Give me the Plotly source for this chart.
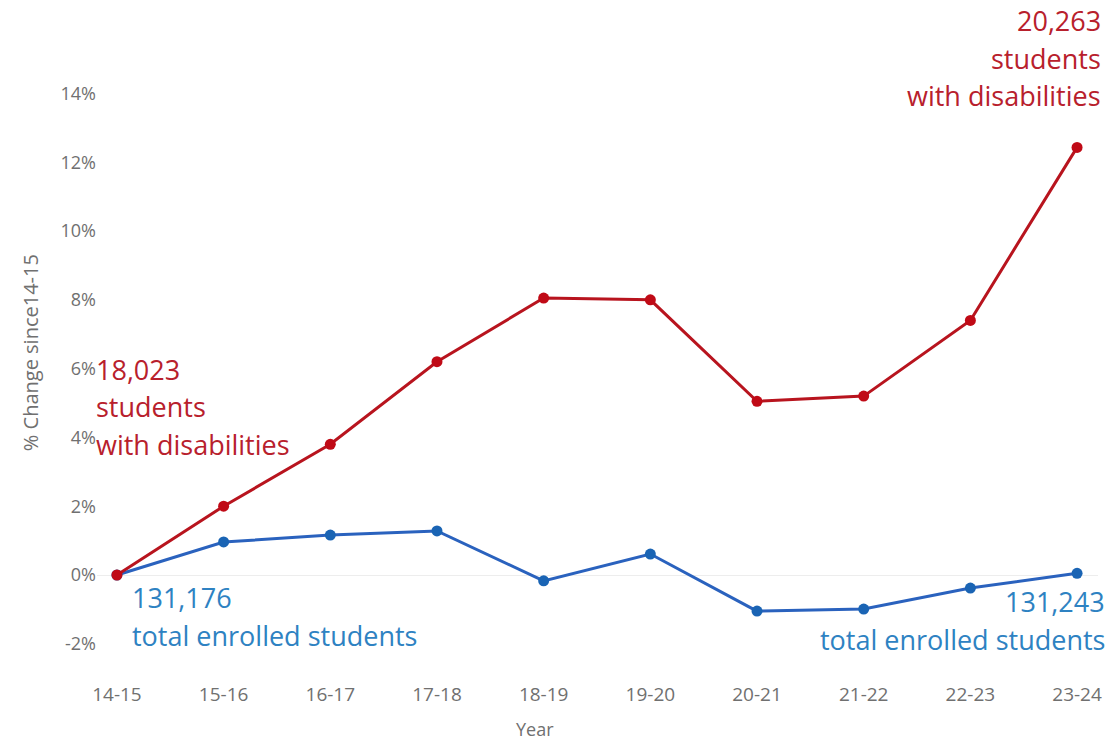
import plotly.graph_objects as go

# School years on the x axis
years = ["14-15", "15-16", "16-17", "17-18", "18-19",
         "19-20", "20-21", "21-22", "22-23", "23-24"]

# Percent change since 14-15
disab_pct = [0.0, 2.0, 3.8, 6.2, 8.05, 8.0, 5.05, 5.2, 7.4, 12.43]
total_pct = [0.0, 0.96, 1.16, 1.28, -0.17, 0.61, -1.05, -0.99, -0.38, 0.05]

y_tickvals = [-2, 0, 2, 4, 6, 8, 10, 12, 14]
y_ticktext = ["-2%", "0%", "2%", "4%", "6%", "8%", "10%", "12%", "14%"]

# Callout text, one entry per line
disab_start_lines = ["18,023", "students", "with disabilities"]
disab_end_lines = ["20,263", "students", "with disabilities"]
total_start_lines = ["131,176", "total enrolled students"]
total_end_lines = ["131,243", "total enrolled students"]

RED = "#B8141E"
RED_TXT = "#B8202C"
BLUE = "#2A62BE"
BLUE_TXT = "#2E82C2"
GRAY = "#707070"
FONT = "Open Sans"

W, H = 1114, 744
ML, MR, MT, MB = 97, 13, 80, 64
PW, PH = W - ML - MR, H - MT - MB


def px_x(x):
    return (x - ML) / PW


def px_y(y):
    return (H - MB - y) / PH


xpos = list(range(len(years)))

fig = go.Figure()
fig.add_trace(go.Scatter(
    x=xpos, y=total_pct, mode="lines+markers",
    line=dict(color=BLUE, width=3),
    marker=dict(color="#1A64B4", size=11),
    cliponaxis=False, showlegend=False,
))
fig.add_trace(go.Scatter(
    x=xpos, y=disab_pct, mode="lines+markers",
    line=dict(color=RED, width=3),
    marker=dict(color="#C00A16", size=11),
    cliponaxis=False, showlegend=False,
))

annotations = []


def add_lines(lines, x_px, y_first, step, anchor, color):
    for i, t in enumerate(lines):
        annotations.append(dict(
            text=t, x=px_x(x_px), y=px_y(y_first + i * step),
            xref="paper", yref="paper", xanchor=anchor, yanchor="middle",
            showarrow=False, font=dict(family=FONT, size=27, color=color),
        ))


add_lines(disab_start_lines, 94, 370, 37, "left", RED_TXT)
add_lines(disab_end_lines, 1106, 21, 37, "right", RED_TXT)
add_lines(total_start_lines, 130, 597, 38, "left", BLUE_TXT)
add_lines(total_end_lines, 1110, 601, 38, "right", BLUE_TXT)

# Axis titles
annotations.append(dict(
    text="% Change since14-15", x=px_x(30), y=px_y(353),
    xref="paper", yref="paper", xanchor="center", yanchor="middle",
    textangle=-90, showarrow=False,
    font=dict(family=FONT, size=20, color=GRAY),
))
annotations.append(dict(
    text="Year", x=px_x(536), y=px_y(729),
    xref="paper", yref="paper", xanchor="center", yanchor="middle",
    showarrow=False, font=dict(family=FONT, size=18, color=GRAY),
))

y0, per_pct = 575, 34.4
fig.update_layout(
    width=W, height=H,
    margin=dict(l=ML, r=MR, t=MT, b=MB),
    paper_bgcolor="white", plot_bgcolor="white",
    font=dict(family=FONT, color=GRAY, size=18),
    annotations=annotations,
    xaxis=dict(
        range=[-(117 - ML) / 107, len(years) - 1 + (W - MR - 1080) / 107],
        tickvals=xpos, ticktext=years,
        showgrid=False, zeroline=False, showline=False, ticks="",
        tickfont=dict(family=FONT, size=19, color=GRAY),
        ticklabelstandoff=1,
    ),
    yaxis=dict(
        range=[(y0 - (H - MB)) / per_pct, (y0 - MT) / per_pct],
        tickvals=y_tickvals, ticktext=y_ticktext,
        showgrid=False, zeroline=True, zerolinecolor="#EDEDED", zerolinewidth=1,
        showline=False, ticks="",
        tickfont=dict(family=FONT, size=18, color=GRAY),
    ),
)

fig.write_html("out.html")
